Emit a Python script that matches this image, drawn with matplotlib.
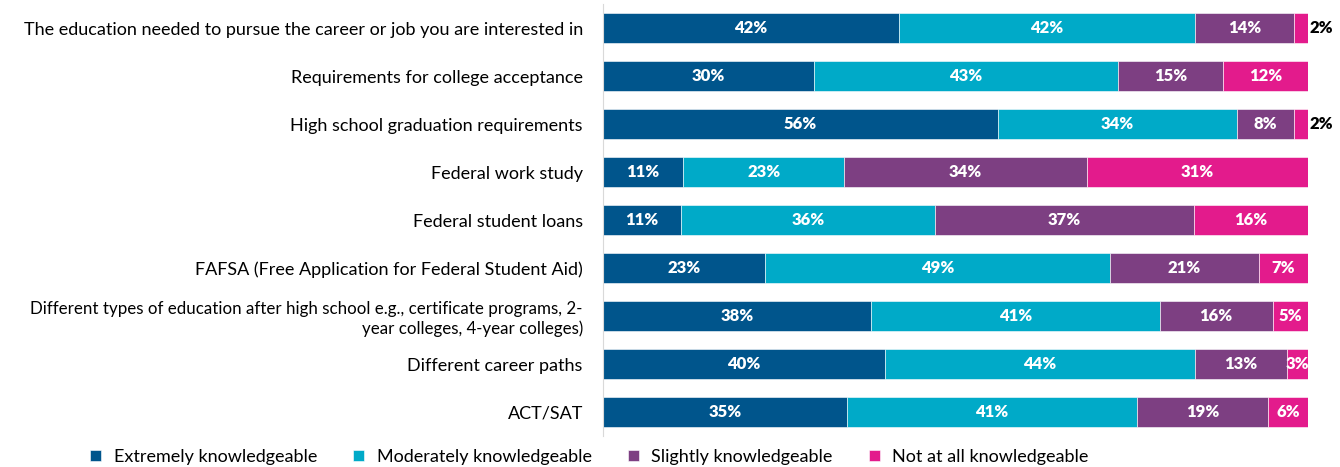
import matplotlib.pyplot as plt
import numpy as np

plt.rcParams['font.family'] = ['Lato', 'DejaVu Sans']

categories = [
    'The education needed to pursue the career or job you are interested in',
    'Requirements for college acceptance',
    'High school graduation requirements',
    'Federal work study',
    'Federal student loans',
    'FAFSA (Free Application for Federal Student Aid)',
    'Different types of education after high school e.g., certificate programs, 2-\nyear colleges, 4-year colleges)',
    'Different career paths',
    'ACT/SAT',
]
extremely = [42, 30, 56, 11.4, 11.1, 23, 38, 40, 34.6]
moderately = [42, 43, 34, 22.8, 36.0, 49, 41, 44, 41.1]
slightly = [14, 15, 8, 34.4, 36.7, 21, 16, 13, 18.7]
not_at_all = [2, 12, 2, 31.4, 16.2, 7, 5, 3, 5.6]

series_names = ['Extremely knowledgeable', 'Moderately knowledgeable',
                'Slightly knowledgeable', 'Not at all knowledgeable']
colors = ['#00558C', '#00AAC8', '#7D3F82', '#E31B8C']

fig = plt.figure(figsize=(13.4, 4.67), dpi=100)
ax = fig.add_axes([0.45, 0.066, 0.526, 0.925])

y = np.arange(len(categories))
left = np.zeros(len(categories))
for vals, name, col in zip([extremely, moderately, slightly, not_at_all], series_names, colors):
    vals = np.array(vals)
    ax.barh(y, vals, left=left, height=0.62, color=col, label=name,
            edgecolor='white', linewidth=0.4)
    for yi, l, v in zip(y, left, vals):
        txt = f'{v:.0f}%'
        if v < 2.5:
            ax.text(l + v + 0.3, yi, txt, ha='left', va='center',
                    color='black', fontsize=12, fontweight='heavy')
        else:
            ax.text(l + v / 2, yi, txt, ha='center', va='center',
                    color='white', fontsize=12, fontweight='heavy')
    left += vals

ax.set_xlim(0, 100)
ax.set_ylim(len(categories) - 0.5, -0.5)
ax.set_yticks(y)
ax.set_yticklabels(categories, fontsize=13, ha='right')
ax.get_yticklabels()[6].set_fontsize(12.2)
ax.tick_params(axis='y', length=0, pad=14.5)
ax.set_xticks([])
for s in ['top', 'right', 'bottom']:
    ax.spines[s].set_visible(False)
ax.spines['left'].set_color('#D9D9D9')

fig.legend(loc='center', bbox_to_anchor=(0.44, 0.022), ncol=4, frameon=False,
           fontsize=13, handlelength=0.6, handleheight=0.6, handletextpad=0.7,
           columnspacing=2.0)

fig.savefig('out.png', dpi=100)
